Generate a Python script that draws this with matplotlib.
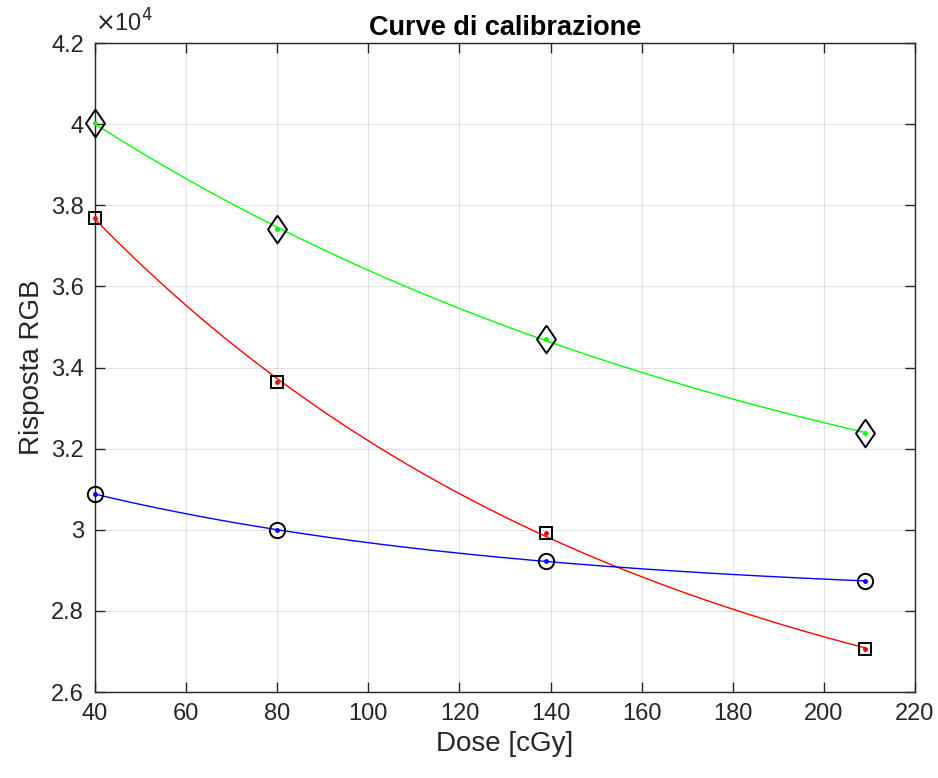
import numpy as np
import matplotlib
matplotlib.use("Agg")
import matplotlib.pyplot as plt
from matplotlib.ticker import FuncFormatter, MultipleLocator

plt.rcParams['font.family'] = ['Liberation Sans', 'DejaVu Sans']

dose = [40, 80, 139, 209]
red = [37685, 33642, 29919, 27059]
green = [40020, 37414, 34702, 32385]
blue = [30881, 29993, 29229, 28736]

diamond = [(0, 1), (0.68, 0), (0, -1), (-0.68, 0), (0, 1)]
series = [
    (red, '#ff0000', 's', 9),
    (green, '#00ff00', diamond, 20),
    (blue, '#0000ff', 'o', 11),
]


def fit_exp(x, y):
    """Least-squares fit of y = a + b*exp(-c*x) (grid search on c)."""
    x = np.asarray(x, float)
    y = np.asarray(y, float)
    best = None
    for c in np.linspace(1e-4, 0.05, 2000):
        A = np.column_stack([np.ones_like(x), np.exp(-c * x)])
        coef, *_ = np.linalg.lstsq(A, y, rcond=None)
        err = np.sum((A @ coef - y) ** 2)
        if best is None or err < best[0]:
            best = (err, coef, c)
    _, (a, b), c = best
    return lambda t: a + b * np.exp(-c * t)


fig = plt.figure(figsize=(9.38, 7.78), dpi=100)
ax = fig.add_axes([0.1013, 0.1105, 0.8742, 0.8342])

xs = np.linspace(min(dose), max(dose), 300)
for vals, col, mk, ms in series:
    f = fit_exp(dose, vals)
    ax.plot(xs, f(xs), color=col, lw=1.0, zorder=3)
    ax.plot(dose, vals, linestyle='none', marker=mk, ms=ms, mfc='none',
            mec='black', mew=1.4, zorder=4, clip_on=False)
    ax.plot(dose, vals, linestyle='none', marker='.', ms=5, color=col,
            zorder=5, clip_on=False)

ax.set_xlim(40, 220)
ax.set_ylim(26000, 42000)
ax.xaxis.set_major_locator(MultipleLocator(20))
ax.yaxis.set_major_locator(MultipleLocator(2000))
ax.yaxis.set_major_formatter(FuncFormatter(lambda v, p: f"{v/1e4:g}"))

ax.grid(True, color='#262626', alpha=0.13, lw=0.8)
ax.set_axisbelow(True)
for s in ax.spines.values():
    s.set_color('#262626')
    s.set_linewidth(1.0)
ax.tick_params(direction='in', top=True, right=True, length=7, width=1.0,
               colors='#262626', labelsize=17, pad=8)

ax.text(0.0, 1.01, r'$\times$10$^{4}$', transform=ax.transAxes,
        fontsize=17, color='#262626', ha='left', va='bottom')
ax.set_title('Curve di calibrazione', fontsize=19.5, fontweight='bold', pad=6)
ax.set_xlabel('Dose [cGy]', fontsize=20, color='#262626', labelpad=4)
ax.set_ylabel('Risposta RGB', fontsize=20, color='#262626', labelpad=4)

fig.savefig('out.png', dpi=100)
